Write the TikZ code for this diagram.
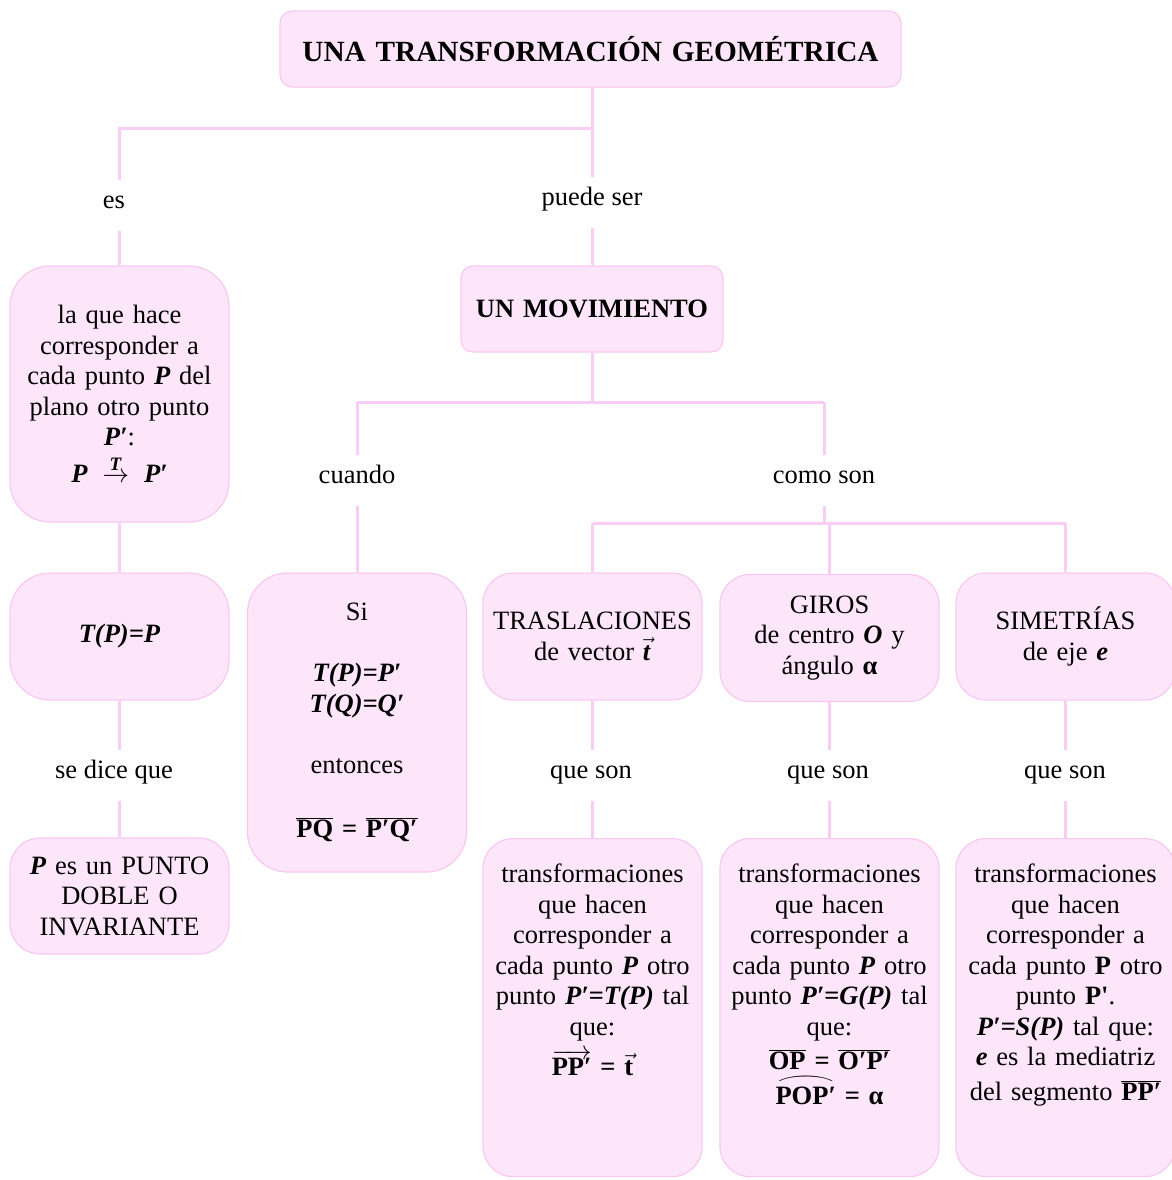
\RequirePackage{fix-cm}
\documentclass[tikz,border=0pt]{standalone}
\usepackage{graphicx}
\usepackage{fontspec}
\setmainfont{Liberation Serif}

\definecolor{boxfill}{RGB}{254,230,250}
\definecolor{boxline}{RGB}{249,200,240}
\definecolor{linkcol}{RGB}{250,205,245}

\newcommand{\bi}[1]{\textbf{\textit{#1}}}
\newcommand{\igual}{\ \textbf{=}\ }
\newsavebox{\arcbox}
\newcommand{\arcsobre}[1]{\sbox{\arcbox}{#1}%
  $\mathop{\usebox{\arcbox}}\limits^{\resizebox{\wd\arcbox}{8pt}{$\frown$}}$}

\tikzset{
  box/.style={draw=boxline, line width=1.2pt, fill=boxfill, rounded corners=30pt,
    align=center, text width=205pt, minimum width=219pt, inner xsep=0pt},
  deftext/.style={box, anchor=north, text height=44pt, text depth=294pt, inner ysep=0pt},
  link/.style={draw=linkcol, line width=3pt},
  lbl/.style={anchor=base, text height=19pt, text depth=14pt, inner ysep=9pt}
}

\begin{document}
\begin{tikzpicture}[x=1pt,y=-1pt,font=\fontsize{26.5}{30.5}\selectfont]
\useasboundingbox (0,0) rectangle (1171,1180);

\coordinate (j1) at (592,129);
\coordinate (j2) at (592,402);
\coordinate (j3) at (825,523);

\node[box, rounded corners=12pt, text width=610pt, minimum width=621pt, minimum height=76pt,
  font=\fontsize{29.3}{33}\selectfont\bfseries] (title) at (590.5,49) {UNA TRANSFORMACIÓN GEOMÉTRICA};

\node[lbl] (es) at (114,208) {es};
\node[lbl] (puede) at (592,205) {puede ser};

\node[box, rounded corners=40pt, minimum height=256pt] (def) at (119.5,394)
  {la que hace\\corresponder a\\cada punto \bi{P} del\\plano otro punto\\\bi{P′}:\\[6pt]
   $\mbox{\bi{P}}\stackrel{\mbox{\fontsize{19}{19}\selectfont\bi{T}}}{\rightarrow}\mbox{\bi{P′}}$};
\node[box, rounded corners=12pt, text width=250pt, minimum width=262pt, minimum height=86pt] (mov) at (592,309)
  {\textbf{UN MOVIMIENTO}};

\node[box, rounded corners=40pt, minimum height=127pt] (fijo) at (119.5,636.5) {\bi{T(P)=P}};
\node[lbl] (sedice) at (114,778) {se dice que};
\node[box, minimum height=116pt] (inv) at (119.5,896) {\bi{P} es un PUNTO\\DOBLE O\\INVARIANTE};

\node[lbl] (cuando) at (357,483) {cuando};
\node[lbl] (como) at (824,483) {como son};
\node[box, rounded corners=40pt, minimum height=299pt] (si) at (357,722.5)
  {Si\\[30.5pt]\bi{T(P)=P′}\\\bi{T(Q)=Q′}\\[30.5pt]entonces\\[34pt]
   $\overline{\mbox{\textbf{PQ}}}$\igual$\overline{\mbox{\textbf{P′Q′}}}$};

\node[box, minimum height=127pt] (tras) at (592.5,636.5) {TRASLACIONES\\de vector $\vec{\mbox{\bi{t}}}$};
\node[box, minimum height=127pt] (giros) at (829.5,638) {GIROS\\de centro \bi{O} y\\ángulo \textbf{α}};
\node[box, minimum height=127pt] (sim) at (1065.5,636.5) {SIMETRÍAS\\de eje \bi{e}};

\node[lbl] (queT) at (591,778) {que son};
\node[lbl] (queG) at (828,778) {que son};
\node[lbl] (queS) at (1065,778) {que son};

\node[deftext] (trasdef) at (592.5,838)
  {transformaciones\\que hacen\\corresponder a\\cada punto \bi{P} otro\\punto \bi{P′=T(P)} tal\\que:\\[8pt]
   $\overrightarrow{\mbox{\textbf{PP′}}}$\igual$\vec{\mbox{\textbf{t}}}$};
\node[deftext] (girosdef) at (829.5,838)
  {transformaciones\\que hacen\\corresponder a\\cada punto \bi{P} otro\\punto \bi{P′=G(P)} tal\\que:\\[4pt]
   $\overline{\mbox{\textbf{OP}}}$\igual$\overline{\mbox{\textbf{O′P′}}}$\\[4pt]
   \arcsobre{\textbf{POP′}}\igual\textbf{α}};
\node[deftext] (simdef) at (1065.5,838)
  {transformaciones\\que hacen\\corresponder a\\cada punto \textbf{P} otro\\punto \textbf{P\textquotesingle}.\\
   \bi{P′=S(P)} tal que:\\\bi{e} es la mediatriz\\[4pt]del segmento $\overline{\mbox{\textbf{PP′}}}$};

% connectors
\draw[link] (title.south -| j1) -- (puede.north);
\draw[link] (j1) -| (es.north -| def.north);
\draw[link] (es.south -| def.north) -- (def.north);
\draw[link] (def.south) -- (fijo.north);
\draw[link] (fijo.south) -- (sedice.north -| fijo.south);
\draw[link] (sedice.south -| inv.north) -- (inv.north);

\draw[link] (puede.south) -- (mov.north);
\draw[link] (mov.south) -- (j2);
\draw[link] (cuando.north |- j2) -- (como.north |- j2);
\draw[link] (cuando.north |- j2) -- (cuando.north);
\draw[link] (como.north |- j2) -- (como.north);
\draw[link] (cuando.south) -- (si.north);
\draw[link] (como.south) -- (como.south |- j3);
\draw[link] (tras.north |- j3) -- (sim.north |- j3);
\foreach \b in {tras,giros,sim}
  \draw[link] (\b.north |- j3) -- (\b.north);
\foreach \b/\q/\d in {tras/queT/trasdef, giros/queG/girosdef, sim/queS/simdef} {
  \draw[link] (\b.south) -- (\q.north -| \b.south);
  \draw[link] (\q.south -| \d.north) -- (\d.north);
}

\end{tikzpicture}
\end{document}
